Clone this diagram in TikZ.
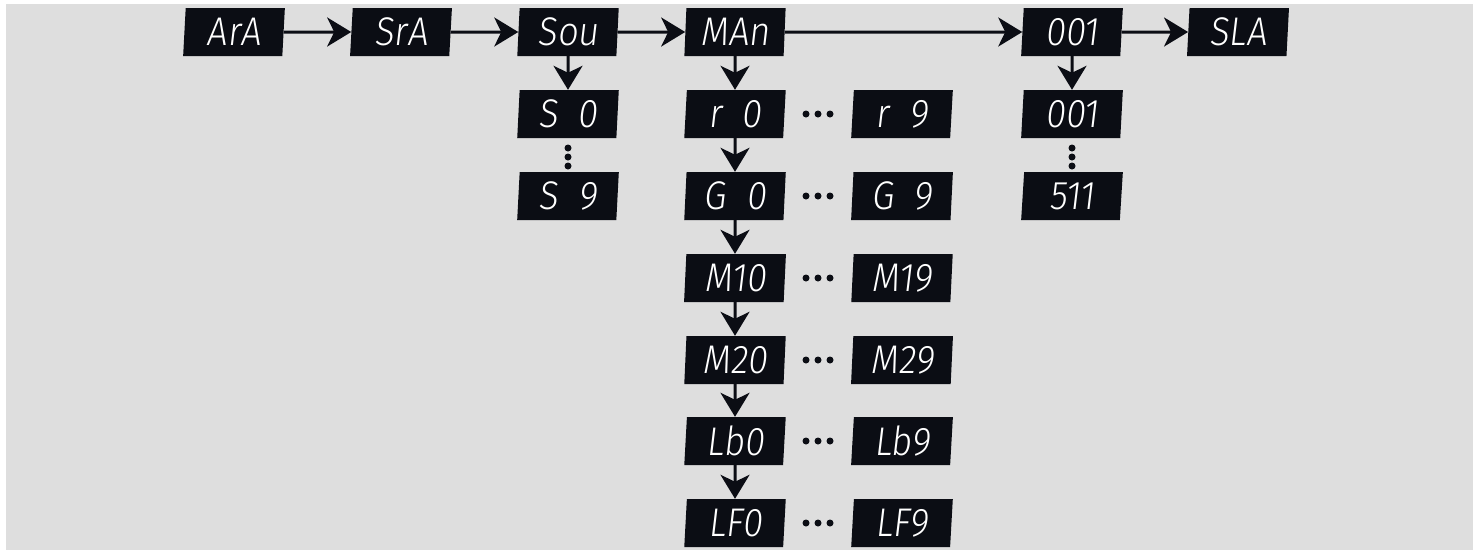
\documentclass[tikz,border=0pt]{standalone}
\usepackage{fontspec}
\newfontfamily\segfont{Fira Sans Light}[FakeSlant=0.12,FakeStretch=0.9]
\usetikzlibrary{shapes.geometric,arrows.meta}
\definecolor{panel}{HTML}{DEDEDE}
\definecolor{lcd}{HTML}{0B0D14}
\tikzset{
  display/.style={trapezium, trapezium left angle=87, trapezium right angle=93,
    trapezium stretches=true, fill=lcd, text=white, inner sep=0pt,
    minimum width=102pt, minimum height=48pt,
    font=\segfont\fontsize{40}{40}\selectfont},
  flow/.style={-{Stealth[length=24pt,width=29pt,inset=7pt]}, line width=3pt, draw=lcd},
}
\begin{document}
\begin{tikzpicture}[x=1pt, y=-1pt]
            \fill[white] (0,0) rectangle (1479,550);
            \fill[panel] (6,4) rectangle (1473,550);
            \useasboundingbox (0,0) rectangle (1479,550);
            % top row
            \node[display] (ara) at (234,32) {ArA};
            \node[display] (sra) at (401,32) {SrA};
            \node[display] (sou) at (568,32) {Sou};
            \node[display] (man) at (735,32) {MAn};
            \node[display] (addr) at (1072,32) {001};
            \node[display] (sla) at (1238,32) {SLA};
            \draw[flow] (ara) -- (sra);
            \draw[flow] (sra) -- (sou);
            \draw[flow] (sou) -- (man);
            \draw[flow] (man) -- (addr);
            \draw[flow] (addr) -- (sla);
            % sound
            \node[display] (s0) at (568,114) {S\ \ 0};
            \node[display] (s9) at (568,196) {S\ \ 9};
            \draw[flow] (sou) -- (s0);
            % manual
            \node[display] (r0) at (735,114) {r\ \ 0};
            \node[display] (r9) at (902,114) {r\ \ 9};
            \node[display] (g0) at (735,196) {G\ \ 0};
            \node[display] (g9) at (902,196) {G\ \ 9};
            \node[display] (m10) at (735,278) {M10};
            \node[display] (m19) at (902,278) {M19};
            \node[display] (m20) at (735,360) {M20};
            \node[display] (m29) at (902,360) {M29};
            \node[display] (lb0) at (735,441) {Lb0};
            \node[display] (lb9) at (902,441) {Lb9};
            \node[display] (lf0) at (735,523) {LF0};
            \node[display] (lf9) at (902,523) {LF9};
            \draw[flow] (man) -- (r0);
            \draw[flow] (r0) -- (g0);
            \draw[flow] (g0) -- (m10);
            \draw[flow] (m10) -- (m20);
            \draw[flow] (m20) -- (lb0);
            \draw[flow] (lb0) -- (lf0);
            % address
            \node[display] (a1) at (1072,114) {001};
            \node[display] (a511) at (1072,196) {511};
            \draw[flow] (addr) -- (a1);
            % dots
            \foreach \y in {114,196,278,360,441,523}
                \foreach \x in {806,818,830}
                    \fill[lcd] (\x,\y) circle (3.5pt);
            \foreach \x in {568,1072}
                \foreach \y in {148,157,166}
                    \fill[lcd] (\x,\y) circle (3.5pt);
        \end{tikzpicture}
\end{document}
